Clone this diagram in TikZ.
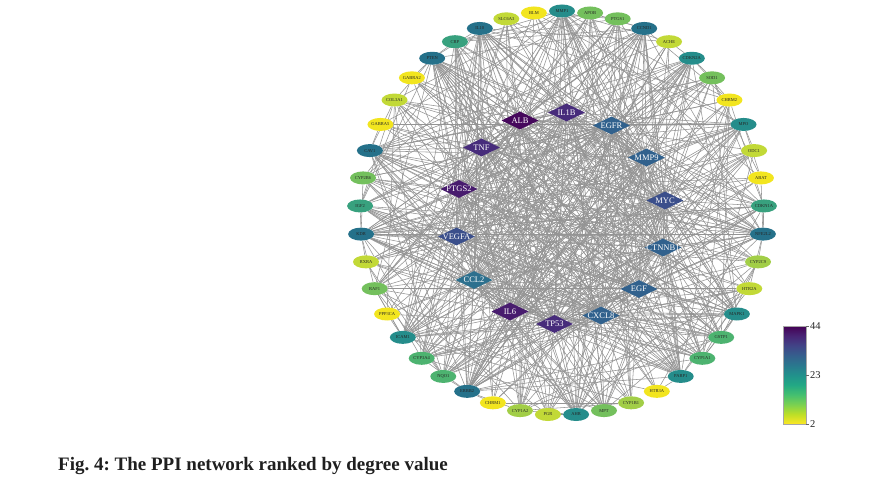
\documentclass[tikz,border=0pt]{standalone}
\usepackage{fontspec}
\setmainfont{Liberation Serif}
\usetikzlibrary{shapes.geometric}
\pgfdeclarelayer{bg}
\pgfsetlayers{bg,main}
\frenchspacing
\definecolor{cA}{HTML}{46085C}
\definecolor{cP}{HTML}{481C6E}
\definecolor{cQ}{HTML}{472C7B}
\definecolor{cI}{HTML}{3B4F8B}
\definecolor{cB}{HTML}{31618D}
\definecolor{cC}{HTML}{2D708E}
\definecolor{cD}{HTML}{25718A}
\definecolor{cT}{HTML}{258D8B}
\definecolor{cG}{HTML}{38A17E}
\definecolor{cH}{HTML}{4DB370}
\definecolor{cL}{HTML}{74C05D}
\definecolor{cM}{HTML}{A2CE47}
\definecolor{cY}{HTML}{C2D937}
\definecolor{cZ}{HTML}{F2E51F}
\definecolor{edgec}{HTML}{949494}
\definecolor{v0}{HTML}{FDE725}
\definecolor{v1}{HTML}{BDDF26}
\definecolor{v2}{HTML}{7AD151}
\definecolor{v3}{HTML}{44BF70}
\definecolor{v4}{HTML}{22A884}
\definecolor{v5}{HTML}{21918C}
\definecolor{v6}{HTML}{2A788E}
\definecolor{v7}{HTML}{355F8D}
\definecolor{v8}{HTML}{414487}
\definecolor{v9}{HTML}{482475}
\definecolor{v10}{HTML}{440154}
\tikzset{
  onode/.style={ellipse, minimum width=26pt, minimum height=13pt, inner sep=0pt,
    text=black!85, font=\fontsize{4.5}{5}\selectfont},
  hnode/.style={diamond, minimum width=37pt, minimum height=18pt, inner sep=0pt,
    text=white, font=\fontsize{8.5}{9}\selectfont},
  edge/.style={draw=edgec, line width=0.55pt},
  tickl/.style={anchor=west, inner sep=0pt, font=\fontsize{10.5}{11}\selectfont, text=black!85}
}
\begin{document}
\begin{tikzpicture}[x=1pt, y=-1pt]
\useasboundingbox (0,0) rectangle (894,484);
% outer ring
\foreach \i/\lab/\col in {0/MMP1/cT, 1/APOB/cL, 2/PTGS1/cL, 3/CCND1/cD, 4/ACHE/cY,
  5/CDKN2A/cT, 6/SOD1/cL, 7/CHRM2/cZ, 8/MPO/cT, 9/ODC1/cY, 10/ABAT/cZ, 11/CDKN1A/cG,
  12/NFE2L2/cD, 13/CYP2C9/cM, 14/HTR2A/cY, 15/MAPK1/cT, 16/GSTP1/cH, 17/CYP1A1/cH,
  18/PARP1/cT, 19/HTR3A/cZ, 20/CYP1B1/cM, 21/MPT/cL, 22/AHR/cT, 23/PGR/cY,
  24/CYP1A2/cM, 25/CHRM1/cZ, 26/ERBB2/cD, 27/NQO1/cH, 28/CYP3A4/cH, 29/ICAM1/cT,
  30/PPP3CA/cZ, 31/RAF1/cL, 32/RXRA/cY, 33/KDR/cD, 34/IGF2/cG, 35/CYP2B6/cL,
  36/CAV1/cD, 37/GABRA5/cZ, 38/COL3A1/cY, 39/GABRA2/cZ, 40/PTEN/cD, 41/CRP/cG,
  42/IL10/cD, 43/SLC6A3/cY, 44/BLM/cZ}
  \node[onode, fill=\col] (o\i) at ({562+202*cos(90-8*\i)},{213-202*sin(90-8*\i)}) {\makebox[0pt]{\lab}};
% hubs
\foreach \i/\lab/\col/\px/\py in {1/ALB/cA/520/120.5, 2/IL1B/cQ/566.5/112.5,
  3/EGFR/cB/611.5/125.5, 4/TNF/cQ/481.5/147.5, 5/MMP9/cB/646.5/157.5,
  6/PTGS2/cP/459/189, 7/MYC/cI/665/200.5, 8/VEGFA/cI/456.5/236.5,
  9/CTNNB1/cB/663/247.5, 10/CCL2/cC/474/280, 11/EGF/cB/639/289,
  12/IL6/cP/510/311.5, 13/TP53/cQ/554.5/324, 14/CXCL8/cB/601/315.5}
  \node[hnode, fill=\col] (h\i) at (\px,\py) {\makebox[0pt]{\lab}};
% edges
\begin{pgfonlayer}{bg}
\fill[white] (0,0) rectangle (894,484);
\foreach \a in {1,...,13} {
  \pgfmathtruncatemacro{\myb}{\a+1}
  \foreach \b in {\myb,...,14} \draw[edge] (h\a) -- (h\b);
}
\foreach \i/\d in {0/22,1/10,2/11,3/26,4/6,5/22,6/11,7/3,8/20,9/6,10/3,11/17,
  12/26,13/9,14/6,15/21,16/15,17/14,18/21,19/3,20/9,21/12,22/21,23/6,24/9,25/3,
  26/26,27/16,28/16,29/22,30/3,31/12,32/6,33/26,34/17,35/10,36/25,37/3,38/6,
  39/3,40/26,41/17,42/26,43/6,44/3} {
  \pgfmathtruncatemacro{\mynh}{round(\d*0.6)}
  \pgfmathtruncatemacro{\myno}{\d-\mynh}
  \pgfmathtruncatemacro{\mys}{{3,5,9,11,13}[mod(\i,5)]}
  \foreach \k in {1,...,\mynh} {
    \pgfmathtruncatemacro{\myh}{mod(\i*3+\k*\mys,14)+1}
    \draw[edge] (o\i) -- (h\myh);
  }
  \ifnum\myno>0
    \pgfmathtruncatemacro{\myp}{{7,11,13,17,19,22,23}[mod(\i,7)]}
    \foreach \k in {1,...,\myno} {
      \pgfmathtruncatemacro{\myt}{mod(\i+3+\k*\myp,45)}
      \ifnum\myt=\i\else\draw[edge] (o\i) -- (o\myt);\fi
    }
  \fi
}
\end{pgfonlayer}
% colour bar
\foreach \j in {0,...,9} {
  \pgfmathtruncatemacro{\jn}{\j+1}
  \shade[bottom color=v\j, top color=v\jn] (783,{424-9.8*\j}) rectangle (806,{424-9.8*(\j+1)});
}
\draw[black!35, line width=0.4pt] (783,326) rectangle (806,424);
\draw[black!60, line width=0.5pt] (806,326) -- (809,326) (806,375) -- (809,375) (806,424) -- (809,424);
\node[tickl] (cb44) at (810,326) {44};
\node[tickl] (cb23) at (810,375) {23};
\node[tickl] (cb2) at (810,424) {2};
% caption
\node[anchor=base west, inner sep=0pt, text=black!88, font=\fontsize{19}{22}\selectfont\bfseries] (cap) at (58,470) {Fig. 4: The PPI network ranked by degree value};
\end{tikzpicture}
\end{document}
